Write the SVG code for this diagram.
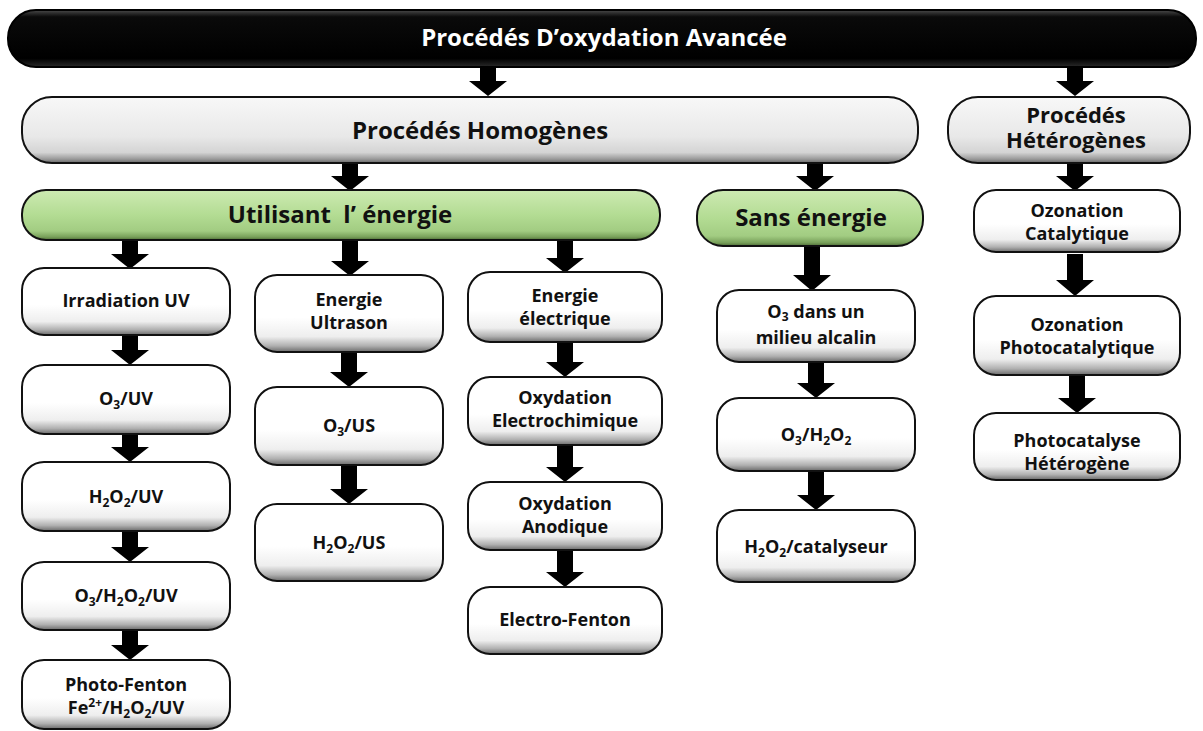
<svg xmlns="http://www.w3.org/2000/svg" width="1203" height="731" viewBox="0 0 1203 731">
  <defs>
    <linearGradient id="gWhite" x1="0" y1="0" x2="0" y2="1">
      <stop offset="0" stop-color="#ffffff"/>
      <stop offset="0.55" stop-color="#ffffff"/>
      <stop offset="0.8" stop-color="#eeeeee"/>
      <stop offset="0.92" stop-color="#b0b0b0"/>
      <stop offset="1" stop-color="#6a6a6a"/>
    </linearGradient>
    <linearGradient id="gGray" x1="0" y1="0" x2="0" y2="1">
      <stop offset="0" stop-color="#f8f8f8"/>
      <stop offset="0.6" stop-color="#e8e8e8"/>
      <stop offset="0.84" stop-color="#d4d4d4"/>
      <stop offset="0.94" stop-color="#9a9a9a"/>
      <stop offset="1" stop-color="#666666"/>
    </linearGradient>
    <linearGradient id="gGreen" x1="0" y1="0" x2="0" y2="1">
      <stop offset="0" stop-color="#cdeab2"/>
      <stop offset="0.5" stop-color="#b3dc93"/>
      <stop offset="0.82" stop-color="#a2cc82"/>
      <stop offset="0.94" stop-color="#78a05a"/>
      <stop offset="1" stop-color="#4d6b36"/>
    </linearGradient>
    <linearGradient id="gBlack" x1="0" y1="0" x2="0" y2="1">
      <stop offset="0" stop-color="#4a4a4a"/>
      <stop offset="0.12" stop-color="#0a0a0a"/>
      <stop offset="0.85" stop-color="#000000"/>
      <stop offset="1" stop-color="#2a2a2a"/>
    </linearGradient>
  </defs>
  <style>
    .box { fill: url(#gWhite); stroke: #111; stroke-width: 2; }
    .gray { fill: url(#gGray); stroke: #111; stroke-width: 2; }
    .green { fill: url(#gGreen); stroke: #111; stroke-width: 2; }
    .black { fill: url(#gBlack); stroke: #000; stroke-width: 2; }
    text { font-family: "Open Sans", "Liberation Sans", sans-serif; font-weight: 700; text-anchor: middle; fill: #111; }
    .big { font-size: 24px; }
    .head { font-size: 22px; }
    .top { font-size: 24px; fill: #ffffff; }
    .sm { font-size: 18px; }
    .sub { font-size: 12px; }
    .arrow { fill: #000; }
  </style>

  <rect width="1203" height="731" fill="#ffffff"/>

  <!-- connectors: block arrows -->
  <g id="connectors">
    <path class="arrow" d="M480,68 H496 V81 H507 L488,96 L469,81 H480 Z"/>
    <path class="arrow" d="M1067,68 H1083 V81 H1094 L1075,96 L1056,81 H1067 Z"/>
    <path class="arrow" d="M342,164 H358 V176 H369 L350,191 L331,176 H342 Z"/>
    <path class="arrow" d="M807,164 H823 V176 H834 L815,191 L796,176 H807 Z"/>
    <path class="arrow" d="M1067,164 H1083 V176 H1094 L1075,191 L1056,176 H1067 Z"/>

    <path class="arrow" d="M122,241 H138 V254 H149 L130,269 L111,254 H122 Z"/>
    <path class="arrow" d="M342,241 H358 V261 H369 L350,276 L331,261 H342 Z"/>
    <path class="arrow" d="M557,241 H573 V258 H584 L565,273 L546,258 H557 Z"/>
    <path class="arrow" d="M804,247 H820 V275 H831 L812,291 L793,275 H804 Z"/>

    <path class="arrow" d="M122,336 H138 V350 H149 L130,365 L111,350 H122 Z"/>
    <path class="arrow" d="M122,434 H138 V447 H149 L130,462 L111,447 H122 Z"/>
    <path class="arrow" d="M122,532 H138 V547 H149 L130,562 L111,547 H122 Z"/>
    <path class="arrow" d="M122,631 H138 V645 H149 L130,660 L111,645 H122 Z"/>

    <path class="arrow" d="M341,352 H357 V372 H368 L349,387 L330,372 H341 Z"/>
    <path class="arrow" d="M341,465 H357 V489 H368 L349,504 L330,489 H341 Z"/>

    <path class="arrow" d="M557,342 H573 V362 H584 L565,377 L546,362 H557 Z"/>
    <path class="arrow" d="M557,445 H573 V467 H584 L565,482 L546,467 H557 Z"/>
    <path class="arrow" d="M557,550 H573 V572 H584 L565,587 L546,572 H557 Z"/>

    <path class="arrow" d="M808,363 H824 V383 H835 L816,398 L797,383 H808 Z"/>
    <path class="arrow" d="M808,471 H824 V495 H835 L816,510 L797,495 H808 Z"/>

    <path class="arrow" d="M1067,254 H1083 V280 H1094 L1075,296 L1056,280 H1067 Z"/>
    <path class="arrow" d="M1069,375 H1085 V398 H1096 L1077,413 L1058,398 H1069 Z"/>
  </g>

  <!-- level 0 -->
  <g id="node-poa">
    <rect class="black" x="8" y="10" width="1188" height="57" rx="28"/>
    <text class="top" x="604" y="46">Procédés D’oxydation Avancée</text>
  </g>

  <!-- level 1 -->
  <g id="node-homogenes">
    <rect class="gray" x="22" y="97" width="896" height="66" rx="30"/>
    <text class="big" x="480" y="139">Procédés Homogènes</text>
  </g>
  <g id="node-heterogenes">
    <rect class="gray" x="948" y="97" width="242" height="66" rx="30"/>
    <text class="head" x="1076" y="123">Procédés<tspan x="1076" dy="25">Hétérogènes</tspan></text>
  </g>

  <!-- level 2 -->
  <g id="node-utilisant">
    <rect class="green" x="22" y="190" width="638" height="50" rx="24"/>
    <text class="big" x="340" y="223" xml:space="preserve">Utilisant  l’ énergie</text>
  </g>
  <g id="node-sans">
    <rect class="green" x="697" y="190" width="226" height="56" rx="26"/>
    <text class="big" x="811" y="226">Sans énergie</text>
  </g>

  <!-- column: irradiation UV -->
  <g id="node-irradiation">
    <rect class="box" x="22" y="268" width="208" height="67" rx="22"/>
    <text class="sm" x="126" y="307">Irradiation UV</text>
  </g>
  <g id="node-o3-uv">
    <rect class="box" x="22" y="365" width="208" height="69" rx="22"/>
    <text class="sm" x="126" y="405">O<tspan class="sub" dy="4">3</tspan><tspan dy="-4">/UV</tspan></text>
  </g>
  <g id="node-h2o2-uv">
    <rect class="box" x="22" y="462" width="208" height="69" rx="22"/>
    <text class="sm" x="126" y="503">H<tspan class="sub" dy="4">2</tspan><tspan dy="-4">O</tspan><tspan class="sub" dy="4">2</tspan><tspan dy="-4">/UV</tspan></text>
  </g>
  <g id="node-o3-h2o2-uv">
    <rect class="box" x="22" y="562" width="208" height="68" rx="22"/>
    <text class="sm" x="126" y="602">O<tspan class="sub" dy="4">3</tspan><tspan dy="-4">/H</tspan><tspan class="sub" dy="4">2</tspan><tspan dy="-4">O</tspan><tspan class="sub" dy="4">2</tspan><tspan dy="-4">/UV</tspan></text>
  </g>
  <g id="node-photo-fenton">
    <rect class="box" x="22" y="660" width="208" height="69" rx="22"/>
    <text class="sm" x="126" y="691">Photo-Fenton</text>
    <text class="sm" x="126" y="714">Fe<tspan class="sub" dy="-7">2+</tspan><tspan dy="7">/H</tspan><tspan class="sub" dy="4">2</tspan><tspan dy="-4">O</tspan><tspan class="sub" dy="4">2</tspan><tspan dy="-4">/UV</tspan></text>
  </g>

  <!-- column: ultrasound -->
  <g id="node-ultrason">
    <rect class="box" x="255" y="275" width="188" height="77" rx="22"/>
    <text class="sm" x="349" y="306">Energie</text>
    <text class="sm" x="349" y="329">Ultrason</text>
  </g>
  <g id="node-o3-us">
    <rect class="box" x="255" y="387" width="188" height="78" rx="22"/>
    <text class="sm" x="349" y="432">O<tspan class="sub" dy="4">3</tspan><tspan dy="-4">/US</tspan></text>
  </g>
  <g id="node-h2o2-us">
    <rect class="box" x="255" y="504" width="188" height="77" rx="22"/>
    <text class="sm" x="349" y="549">H<tspan class="sub" dy="4">2</tspan><tspan dy="-4">O</tspan><tspan class="sub" dy="4">2</tspan><tspan dy="-4">/US</tspan></text>
  </g>

  <!-- column: electrical energy -->
  <g id="node-electrique">
    <rect class="box" x="468" y="272" width="194" height="70" rx="22"/>
    <text class="sm" x="565" y="302">Energie</text>
    <text class="sm" x="565" y="325">électrique</text>
  </g>
  <g id="node-electrochimique">
    <rect class="box" x="468" y="377" width="194" height="68" rx="22"/>
    <text class="sm" x="565" y="404">Oxydation</text>
    <text class="sm" x="565" y="427">Electrochimique</text>
  </g>
  <g id="node-anodique">
    <rect class="box" x="468" y="482" width="194" height="68" rx="22"/>
    <text class="sm" x="565" y="510">Oxydation</text>
    <text class="sm" x="565" y="533">Anodique</text>
  </g>
  <g id="node-electro-fenton">
    <rect class="box" x="468" y="587" width="194" height="67" rx="22"/>
    <text class="sm" x="565" y="626">Electro-Fenton</text>
  </g>

  <!-- column: without energy -->
  <g id="node-alcalin">
    <rect class="box" x="717" y="290" width="198" height="72" rx="22"/>
    <text class="sm" x="816" y="318">O<tspan class="sub" dy="3">3</tspan><tspan dy="-3"> dans un</tspan></text>
    <text class="sm" x="816" y="344">milieu alcalin</text>
  </g>
  <g id="node-o3-h2o2">
    <rect class="box" x="717" y="398" width="198" height="73" rx="22"/>
    <text class="sm" x="816" y="441">O<tspan class="sub" dy="4">3</tspan><tspan dy="-4">/H</tspan><tspan class="sub" dy="4">2</tspan><tspan dy="-4">O</tspan><tspan class="sub" dy="4">2</tspan></text>
  </g>
  <g id="node-catalyseur">
    <rect class="box" x="717" y="510" width="198" height="72" rx="22"/>
    <text class="sm" x="816" y="553">H<tspan class="sub" dy="4">2</tspan><tspan dy="-4">O</tspan><tspan class="sub" dy="4">2</tspan><tspan dy="-4">/catalyseur</tspan></text>
  </g>

  <!-- column: heterogeneous -->
  <g id="node-ozonation-catalytique">
    <rect class="box" x="974" y="190" width="206" height="62" rx="22"/>
    <text class="sm" x="1077" y="217">Ozonation</text>
    <text class="sm" x="1077" y="240">Catalytique</text>
  </g>
  <g id="node-ozonation-photocatalytique">
    <rect class="box" x="974" y="296" width="206" height="79" rx="22"/>
    <text class="sm" x="1077" y="331">Ozonation</text>
    <text class="sm" x="1077" y="354">Photocatalytique</text>
  </g>
  <g id="node-photocatalyse">
    <rect class="box" x="974" y="413" width="206" height="67" rx="22"/>
    <text class="sm" x="1077" y="447">Photocatalyse</text>
    <text class="sm" x="1077" y="470">Hétérogène</text>
  </g>
</svg>
